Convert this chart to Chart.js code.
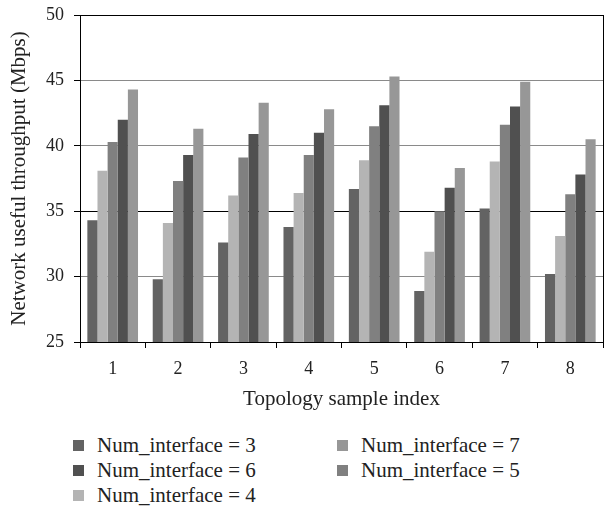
<!DOCTYPE html>
<html>
<head>
<meta charset="utf-8">
<script src="https://cdn.jsdelivr.net/npm/chart.js@4"></script>
<style>
    body { margin: 0; background: #fff; overflow: hidden; }
    #wrap { position: relative; width: 609px; height: 506px; }
    #chartBox { position: absolute; left: 0; top: 0; width: 609px; height: 415px; }
    .legend { position: absolute; left: 0; top: 0; font-family: "Liberation Serif", serif; font-size: 21px; color: #222; }
    .legend-item { position: absolute; white-space: nowrap; display: flex; align-items: center; height: 24px; line-height: 24px; }
    .legend-box { width: 11px; height: 11px; margin-right: 13px; }
</style>
</head>
<body>
<div id="wrap">
    <div id="chartBox"><canvas id="barChart"></canvas></div>
    <div class="legend" id="legend"></div>
</div>
<script>
const categories = ['1', '2', '3', '4', '5', '6', '7', '8'];

const interface3 = [34.3, 29.8, 32.6, 33.8, 36.7, 28.9, 35.2, 30.2];
const interface4 = [38.1, 34.1, 36.2, 36.4, 38.9, 31.9, 38.8, 33.1];
const interface5 = [40.3, 37.3, 39.1, 39.3, 41.5, 35.0, 41.6, 36.3];
const interface6 = [42.0, 39.3, 40.9, 41.0, 43.1, 36.8, 43.0, 37.8];
const interface7 = [44.3, 41.3, 43.3, 42.8, 45.3, 38.3, 44.9, 40.5];

const yTicks = [25, 30, 35, 40, 45, 50];

const series = [
    { label: 'Num_interface = 3', data: interface3, color: '#636363' },
    { label: 'Num_interface = 4', data: interface4, color: '#b4b4b4' },
    { label: 'Num_interface = 5', data: interface5, color: '#808080' },
    { label: 'Num_interface = 6', data: interface6, color: '#505050' },
    { label: 'Num_interface = 7', data: interface7, color: '#979797' }
];

// legend order as in the figure: two columns, row by row
const legendOrder = [0, 4, 3, 2, 1];

const FONT = '"Liberation Serif", serif';

const frameLines = {
    id: 'frameLines',
    afterDraw(chart) {
        const { ctx, chartArea } = chart;
        ctx.save();
        ctx.strokeStyle = '#000';
        ctx.lineWidth = 1;
        ctx.beginPath();
        ctx.moveTo(chartArea.right + 0.5, chartArea.top);
        ctx.lineTo(chartArea.right + 0.5, chartArea.bottom);
        ctx.stroke();
        ctx.restore();
    }
};

function buildLegend() {
    const legend = document.getElementById('legend');
    legendOrder.forEach((idx, i) => {
        const s = series[idx];
        const col = i % 2;
        const row = Math.floor(i / 2);
        const item = document.createElement('div');
        item.className = 'legend-item';
        item.style.left = (col === 0 ? 73 : 337) + 'px';
        item.style.top = (433 + row * 25) + 'px';
        item.innerHTML = `<span class="legend-box" style="background:${s.color}"></span><span>${s.label}</span>`;
        legend.appendChild(item);
    });
}

function initializeChart() {
    const ctx = document.getElementById('barChart').getContext('2d');
    new Chart(ctx, {
        type: 'bar',
        data: {
            labels: categories,
            datasets: series.map(s => ({
                label: s.label,
                data: s.data,
                backgroundColor: s.color,
                borderWidth: 0,
                categoryPercentage: 0.775,
                barPercentage: 1.0
            }))
        },
        options: {
            responsive: true,
            maintainAspectRatio: false,
            animation: false,
            layout: {
                padding: { top: 0, right: 6, bottom: 3, left: 0 }
            },
            plugins: {
                legend: { display: false },
                tooltip: { enabled: false }
            },
            scales: {
                x: {
                    grid: {
                        offset: true,
                        drawOnChartArea: false,
                        drawTicks: true,
                        tickLength: 6,
                        color: '#000'
                    },
                    border: { color: '#000', width: 1 },
                    ticks: {
                        color: '#222',
                        padding: 10,
                        font: { family: FONT, size: 18 }
                    },
                    title: {
                        display: true,
                        text: 'Topology sample index',
                        color: '#222',
                        font: { family: FONT, size: 21 },
                        padding: { top: 0, bottom: 0 }
                    },
                    afterFit(scale) { scale.height = 70; }
                },
                y: {
                    min: 25,
                    max: 50,
                    afterBuildTicks(scale) {
                        scale.ticks = yTicks.map(v => ({ value: v }));
                    },
                    grid: {
                        color: c => (c.tick && (c.tick.value === 50 || c.tick.value === 35)) ? '#000' : '#8a8a8a',
                        tickColor: '#000',
                        tickLength: 6,
                        lineWidth: 1
                    },
                    border: { color: '#000', width: 1 },
                    ticks: {
                        color: '#222',
                        padding: 10,
                        font: { family: FONT, size: 18 }
                    },
                    title: {
                        display: true,
                        text: 'Network useful throughput (Mbps)',
                        color: '#222',
                        font: { family: FONT, size: 21 },
                        padding: { top: 7, bottom: 0 }
                    },
                    afterFit(scale) {
                        scale.width = 80;
                        scale.paddingTop = 15;
                        scale.paddingBottom = 0;
                    }
                }
            }
        },
        plugins: [frameLines]
    });
}

document.addEventListener('DOMContentLoaded', () => {
    buildLegend();
    initializeChart();
});
</script>
</body>
</html>
